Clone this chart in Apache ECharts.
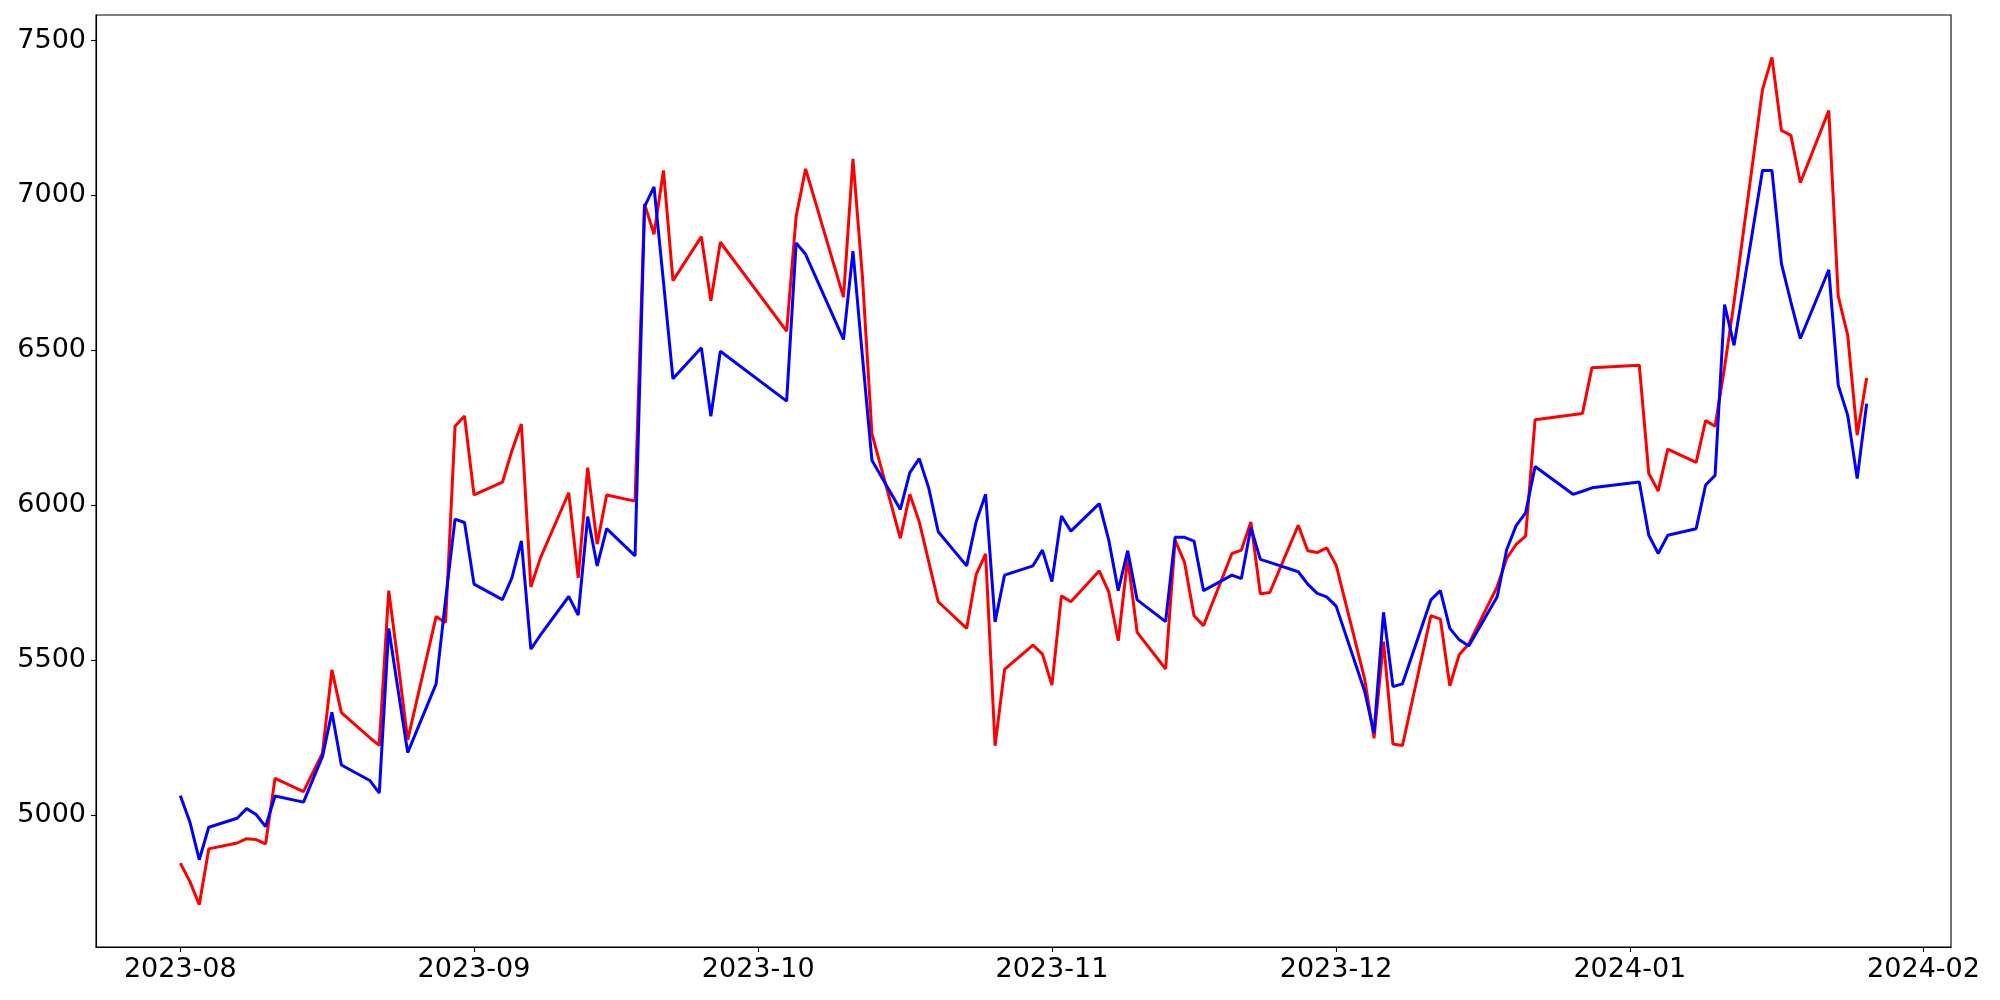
<!DOCTYPE html>
<html>
<head>
<meta charset="utf-8">
<title>line chart</title>
<script src="https://cdn.jsdelivr.net/npm/echarts@6/dist/echarts.min.js"></script>
<style>
  html, body {
    margin: 0;
    padding: 0;
    background: #fff;
  }
  #myChart {
    width: 2000px;
    height: 1000px;
  }
</style>
</head>
<body>
<div id="myChart"></div>
<script>
  // trading days
  var dates = [
    '2023-08-01', '2023-08-02', '2023-08-03', '2023-08-04', '2023-08-07', '2023-08-08', '2023-08-09', '2023-08-10',
    '2023-08-11', '2023-08-14', '2023-08-16', '2023-08-17', '2023-08-18', '2023-08-21', '2023-08-22', '2023-08-23',
    '2023-08-24', '2023-08-25', '2023-08-28', '2023-08-29', '2023-08-30', '2023-08-31',
    '2023-09-01', '2023-09-04', '2023-09-05', '2023-09-06', '2023-09-07', '2023-09-08', '2023-09-11', '2023-09-12',
    '2023-09-13', '2023-09-14', '2023-09-15', '2023-09-18', '2023-09-19', '2023-09-20', '2023-09-21', '2023-09-22',
    '2023-09-25', '2023-09-26', '2023-09-27',
    '2023-10-04', '2023-10-05', '2023-10-06', '2023-10-10', '2023-10-11', '2023-10-12', '2023-10-13', '2023-10-16',
    '2023-10-17', '2023-10-18', '2023-10-19', '2023-10-20', '2023-10-23', '2023-10-24', '2023-10-25', '2023-10-26',
    '2023-10-27', '2023-10-30', '2023-10-31',
    '2023-11-01', '2023-11-02', '2023-11-03', '2023-11-06', '2023-11-07', '2023-11-08', '2023-11-09', '2023-11-10',
    '2023-11-13', '2023-11-14', '2023-11-15', '2023-11-16', '2023-11-17', '2023-11-20', '2023-11-21', '2023-11-22',
    '2023-11-23', '2023-11-24', '2023-11-27', '2023-11-28', '2023-11-29', '2023-11-30',
    '2023-12-01', '2023-12-04', '2023-12-05', '2023-12-06', '2023-12-07', '2023-12-08', '2023-12-11', '2023-12-12',
    '2023-12-13', '2023-12-14', '2023-12-15', '2023-12-18', '2023-12-19', '2023-12-20', '2023-12-21', '2023-12-22',
    '2023-12-26', '2023-12-27', '2023-12-28',
    '2024-01-02', '2024-01-03', '2024-01-04', '2024-01-05', '2024-01-08', '2024-01-09', '2024-01-10', '2024-01-11',
    '2024-01-12', '2024-01-15', '2024-01-16', '2024-01-17', '2024-01-18', '2024-01-19', '2024-01-22', '2024-01-23',
    '2024-01-24', '2024-01-25', '2024-01-26'
  ]

  // red line
  var redValues = [
    4844, 4785, 4710, 4890, 4909, 4923, 4920, 4906,
    5118, 5075, 5199, 5468, 5330, 5249, 5224, 5724,
    5487, 5242, 5640, 5621, 6255, 6288,
    6033, 6074, 6176, 6262, 5736, 5829, 6040, 5765,
    6121, 5874, 6033, 6013, 6973, 6875, 7081, 6725,
    6867, 6660, 6849,
    6562, 6932, 7086, 6672, 7118, 6737, 6231, 5893,
    6035, 5946, 5817, 5688, 5602, 5776, 5843, 5223,
    5470, 5548, 5519,
    5419, 5707, 5688, 5788, 5720, 5562, 5828, 5589,
    5471, 5887, 5815, 5643, 5611, 5844, 5855, 5946,
    5714, 5718, 5935, 5853, 5847, 5862,
    5806, 5440, 5247, 5559, 5229, 5224, 5643, 5632,
    5417, 5518, 5552, 5737, 5828, 5873, 5900, 6276,
    6292, 6296, 6444,
    6452, 6102, 6046, 6181, 6138, 6273, 6255, 6445,
    6656, 7342, 7446, 7210, 7194, 7041, 7274, 6674,
    6548, 6226, 6411
  ]

  // blue line
  var blueValues = [
    5062, 4978, 4855, 4960, 4989, 5020, 5001, 4962,
    5061, 5041, 5188, 5331, 5161, 5111, 5070, 5602,
    5400, 5201, 5423, 5695, 5955, 5944,
    5745, 5695, 5765, 5885, 5535, 5580, 5705, 5645,
    5963, 5804, 5924, 5836, 6964, 7028, 6720, 6408,
    6508, 6287, 6497,
    6336, 6847, 6810, 6535, 6820, 6480, 6145, 5986,
    6105, 6150, 6055, 5914, 5804, 5946, 6035, 5623,
    5774, 5804, 5855,
    5753, 5965, 5916, 6005, 5887, 5724, 5853, 5694,
    5624, 5896, 5896, 5884, 5724, 5774, 5763, 5928,
    5825, 5815, 5785, 5745, 5715, 5704,
    5674, 5400, 5264, 5654, 5414, 5423, 5694, 5724,
    5602, 5565, 5545, 5704, 5856, 5934, 5975, 6125,
    6035, 6045, 6056,
    6075, 5903, 5844, 5903, 5924, 6065, 6096, 6648,
    6516, 7081, 7081, 6780, 6656, 6538, 6760, 6387,
    6290, 6086, 6328
  ]

  // tick labels
  var yTicks = [5000, 5500, 6000, 6500, 7000, 7500]
  var xTicks = ['2023-08', '2023-09', '2023-10', '2023-11', '2023-12', '2024-01', '2024-02']

  function toTime(s) {
    var p = s.split('-')
    return new Date(+p[0], +p[1] - 1, p[2] ? +p[2] : 1).getTime()
  }

  var firstT = toTime(dates[0])
  var lastT = toTime(dates[dates.length - 1])
  var padT = (lastT - firstT) * 0.05
  var allVals = redValues.concat(blueValues)
  var vMin = Math.min.apply(null, allVals)
  var vMax = Math.max.apply(null, allVals)
  var padV = (vMax - vMin) * 0.05

  var redData = dates.map(function (d, i) { return [toTime(d), redValues[i]] })
  var blueData = dates.map(function (d, i) { return [toTime(d), blueValues[i]] })
  var xTickTimes = xTicks.map(toTime)

  var labelFont = {
    fontFamily: 'DejaVu Sans',
    fontSize: 27,
    color: '#000'
  }

  var myChart = echarts.init(document.getElementById('myChart'))
  var option = {
    animation: false,
    backgroundColor: '#fff',
    grid: {
      left: 96,
      right: 49,
      top: 15,
      bottom: 53,
      show: true,
      borderColor: '#000',
      borderWidth: 1.1,
      containLabel: false
    },
    xAxis: {
      // timestamps on a value axis, so the month ticks can be placed exactly
      type: 'value',
      min: firstT - padT,
      max: lastT + padT,
      axisLine: { show: true, onZero: false, lineStyle: { color: '#000', width: 1.1 } },
      axisTick: {
        show: true,
        length: 5,
        lineStyle: { color: '#000', width: 1.1 },
        customValues: xTickTimes
      },
      axisLabel: Object.assign({
        margin: 9,
        hideOverlap: false,
        customValues: xTickTimes,
        formatter: function (val) {
          var i = xTickTimes.indexOf(val)
          return i >= 0 ? xTicks[i] : ''
        }
      }, labelFont),
      splitLine: { show: false }
    },
    yAxis: {
      type: 'value',
      min: vMin - padV,
      max: vMax + padV,
      axisLine: { show: true, onZero: false, lineStyle: { color: '#000', width: 1.1 } },
      axisTick: {
        show: true,
        length: 5,
        lineStyle: { color: '#000', width: 1.1 },
        customValues: yTicks
      },
      axisLabel: Object.assign({
        margin: 10,
        customValues: yTicks,
        formatter: function (val) {
          return String(val) // no thousands separator
        }
      }, labelFont),
      splitLine: { show: false }
    },
    series: [{
        name: 'red',
        type: 'line',
        showSymbol: false,
        data: redData,
        lineStyle: { color: '#ff0000', width: 3 },
        itemStyle: { color: '#ff0000' }
      },
      {
        name: 'blue',
        type: 'line',
        showSymbol: false,
        data: blueData,
        lineStyle: { color: '#0000ff', width: 3 },
        itemStyle: { color: '#0000ff' }
      }
    ]
  }
  myChart.setOption(option)
</script>
</body>
</html>
